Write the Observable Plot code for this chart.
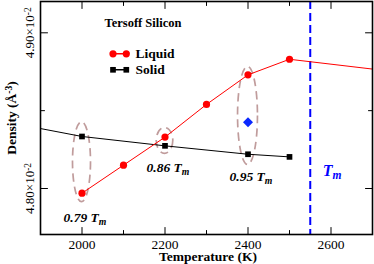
<!DOCTYPE html>
<html><head><meta charset="utf-8">
<script src="https://cdn.jsdelivr.net/npm/d3@7"></script>
<script src="https://cdn.jsdelivr.net/npm/@observablehq/plot@0.6"></script>
<style>
body{margin:0;background:#fff}
svg, svg text, svg tspan {font-family: "Liberation Serif", "Times New Roman", serif !important;}
</style>
</head><body><div id="chart"></div>
<script>
// ---- data (density in units of 10^-2 Å^-3) ----
const liquidT = [2000, 2100, 2200, 2300, 2400, 2500];
const liquidDensity = [4.797, 4.815, 4.833, 4.854, 4.873, 4.883];
const liquidTailT = [2500, 2700];
const liquidTailDensity = [4.883, 4.8767];
const solidT = [2000, 2200, 2400, 2500];
const solidDensity = [4.8334, 4.8274, 4.822, 4.8203];
const solidLineT = [1900, 2000, 2200, 2400, 2500];
const solidLineDensity = [4.8385, 4.8334, 4.8274, 4.822, 4.8203];
const crystalT = [2400];
const crystalDensity = [4.8426];
const meltingT = [2550];
const xTicks = [2000, 2200, 2400, 2600];
const xMinorTicks = [2100, 2300, 2500];
const yTicks = [4.80, 4.90];
const yMinorTicks = [4.85];
const yTickLabels = ["4.80×10^-2", "4.90×10^-2"];
const ellipseT = [2000, 2200, 2400];
const ellipseDensity = [4.8169, 4.8306, 4.8466];
const ellipseHalfT = [21.7, 20, 24];
const ellipseHalfDensity = [0.0257, 0.0083, 0.0315];
const labelText = ["0.79 T_m", "0.86 T_m", "0.95 T_m"];
const labelT = [2000, 2200, 2400];
const labelDensity = [4.7811, 4.8137, 4.8073];
const tmLabel = ["T_m"];
const tmLabelT = [2580];
const tmLabelDensity = [4.8114];
const seriesNames = ["Liquid", "Solid"];

const liquid = liquidT.map((T, i) => ({T, d: liquidDensity[i]}));
const liquidTail = liquidTailT.map((T, i) => ({T, d: liquidTailDensity[i]}));
const solid = solidT.map((T, i) => ({T, d: solidDensity[i]}));
const solidLine = solidLineT.map((T, i) => ({T, d: solidLineDensity[i]}));
const crystal = crystalT.map((T, i) => ({T, d: crystalDensity[i]}));
const labels = labelText.map((t, i) => ({t, T: labelT[i], d: labelDensity[i]}));
const tmLab = tmLabel.map((t, i) => ({t, T: tmLabelT[i], d: tmLabelDensity[i]}));

const font = "Liberation Serif";
const tickShape = {draw(ctx, l) { ctx.moveTo(0, 0); ctx.lineTo(0, -l); }};
const tick = (data, ch, frameAnchor, rotate, length) =>
  Plot.vector(data, {[ch]: d => d, frameAnchor, rotate, length, anchor: "start", shape: tickShape, stroke: "black", strokeWidth: 1});
const txt = (data, o) => Plot.text(data, {fontFamily: font, fill: "black", fontSize: 13.5, ...o});

const plot = Plot.plot({
  width: 374, height: 264,
  marginLeft: 40, marginRight: 2, marginTop: 1, marginBottom: 30,
  style: {fontFamily: font, fontSize: "13.5px", color: "black", background: "white"},
  x: {domain: [1900, 2700]},
  y: {domain: [4.77046, 4.9201]},
  marks: [
    Plot.axisX({ticks: xTicks, tickSize: 0, tickPadding: 4.5, tickFormat: d => String(d), label: null, fontSize: 13.5, fontFamily: font}),
    Plot.axisY({ticks: yTicks, tickSize: 0, tickRotate: -90, tickPadding: 7, tickFormat: d => yTickLabels[yTicks.indexOf(d)], label: null, fontSize: 13, fontFamily: font}),
    tick(xTicks, "x", "bottom", 0, 7), tick(xMinorTicks, "x", "bottom", 0, 4),
    tick(xTicks, "x", "top", 180, 7), tick(xMinorTicks, "x", "top", 180, 4),
    tick(yTicks, "y", "left", 90, 7), tick(yMinorTicks, "y", "left", 90, 4),
    tick(yTicks, "y", "right", -90, 7), tick(yMinorTicks, "y", "right", -90, 4),
    Plot.ruleX(meltingT, {x: d => d, stroke: "#0000ff", strokeWidth: 2, strokeDasharray: "8,4"}),
    Plot.line(solidLine, {x: "T", y: "d", stroke: "black", strokeWidth: 1}),
    Plot.line(liquid, {x: "T", y: "d", stroke: "#ff0000", strokeWidth: 1}),
    Plot.line(liquidTail, {x: "T", y: "d", stroke: "#ff0000", strokeWidth: 1}),
    Plot.dot(solid, {x: "T", y: "d", symbol: "square", r: 3.2, fill: "black"}),
    Plot.dot(liquid, {x: "T", y: "d", r: 3.6, fill: "#ff0000"}),
    Plot.dot(crystal, {x: "T", y: "d", symbol: "diamond2", r: 4.5, fill: "#0a28ff"}),
    txt(labels, {x: "T", y: "d", text: "t", dx: 3, fontWeight: "bold", fontStyle: "italic"}),
    txt(tmLab, {x: "T", y: "d", text: "t", textAnchor: "start", fontWeight: "bold", fontStyle: "italic", fontSize: 16, fill: "#0000ff"}),
    txt(["Tersoff Silicon"], {frameAnchor: "top-left", dx: 64, dy: 17, fontWeight: "bold", fontSize: 12.5}),
    Plot.vector(["Liquid"], {frameAnchor: "top-left", dx: 72.5, dy: 52.3, rotate: 90, length: 13.3, anchor: "start", shape: tickShape, stroke: "#ff0000"}),
    Plot.dot(["Liquid"], {frameAnchor: "top-left", dx: 72.5, dy: 52.3, r: 3.6, fill: "#ff0000"}),
    Plot.dot(["Liquid"], {frameAnchor: "top-left", dx: 85.8, dy: 52.3, r: 3.6, fill: "#ff0000"}),
    Plot.vector(["Solid"], {frameAnchor: "top-left", dx: 72.5, dy: 68.3, rotate: 90, length: 13.3, anchor: "start", shape: tickShape, stroke: "black"}),
    Plot.dot(["Solid"], {frameAnchor: "top-left", dx: 72.5, dy: 68.3, symbol: "square", r: 3.2, fill: "black"}),
    Plot.dot(["Solid"], {frameAnchor: "top-left", dx: 85.8, dy: 68.3, symbol: "square", r: 3.2, fill: "black"}),
    txt(seriesNames.slice(0, 1), {frameAnchor: "top-left", dx: 95, dy: 47, fontWeight: "bold"}),
    txt(seriesNames.slice(1, 2), {frameAnchor: "top-left", dx: 95, dy: 63, fontWeight: "bold"}),
    txt(["Density (Å^-3)"], {frameAnchor: "left", rotate: -90, dx: -29.3, textAnchor: "middle", lineAnchor: "middle", fontWeight: "bold"}),
    txt(["Temperature (K)"], {frameAnchor: "bottom", dx: 1.5, dy: 21.7, textAnchor: "middle", lineAnchor: "middle", fontWeight: "bold"}),
    Plot.frame({stroke: "black", strokeWidth: 1.6})
  ]
});

// ellipses drawn through the plot's own scales
const xs = plot.scale("x"), ys = plot.scale("y");
const svg = d3.select(plot);
const eg = svg.insert("g", "g[aria-label='line']");
ellipseT.forEach((T, i) => {
  const d = ellipseDensity[i];
  eg.append("ellipse")
    .attr("cx", xs.apply(T)).attr("cy", ys.apply(d))
    .attr("rx", xs.apply(T + ellipseHalfT[i]) - xs.apply(T))
    .attr("ry", ys.apply(d) - ys.apply(d + ellipseHalfDensity[i]))
    .attr("fill", "none").attr("stroke", "#c09c9c").attr("stroke-width", 1.7)
    .attr("stroke-dasharray", "8,5");
});

// superscripts / subscripts
svg.selectAll("text").each(function() {
  const t = d3.select(this);
  if (!t.selectAll("tspan").empty()) return;
  const s = this.textContent;
  const m = s.match(/^(.*?)([\^_])([^\)]+)(.*)$/);
  if (!m) return;
  t.text(null);
  t.append("tspan").text(m[1]);
  t.append("tspan").attr("font-size", "72%").attr("baseline-shift", m[2] === "^" ? "38%" : "-28%").text(m[3]);
  if (m[4]) t.append("tspan").text(m[4]);
});

document.getElementById("chart").appendChild(plot);
</script>
</body></html>
